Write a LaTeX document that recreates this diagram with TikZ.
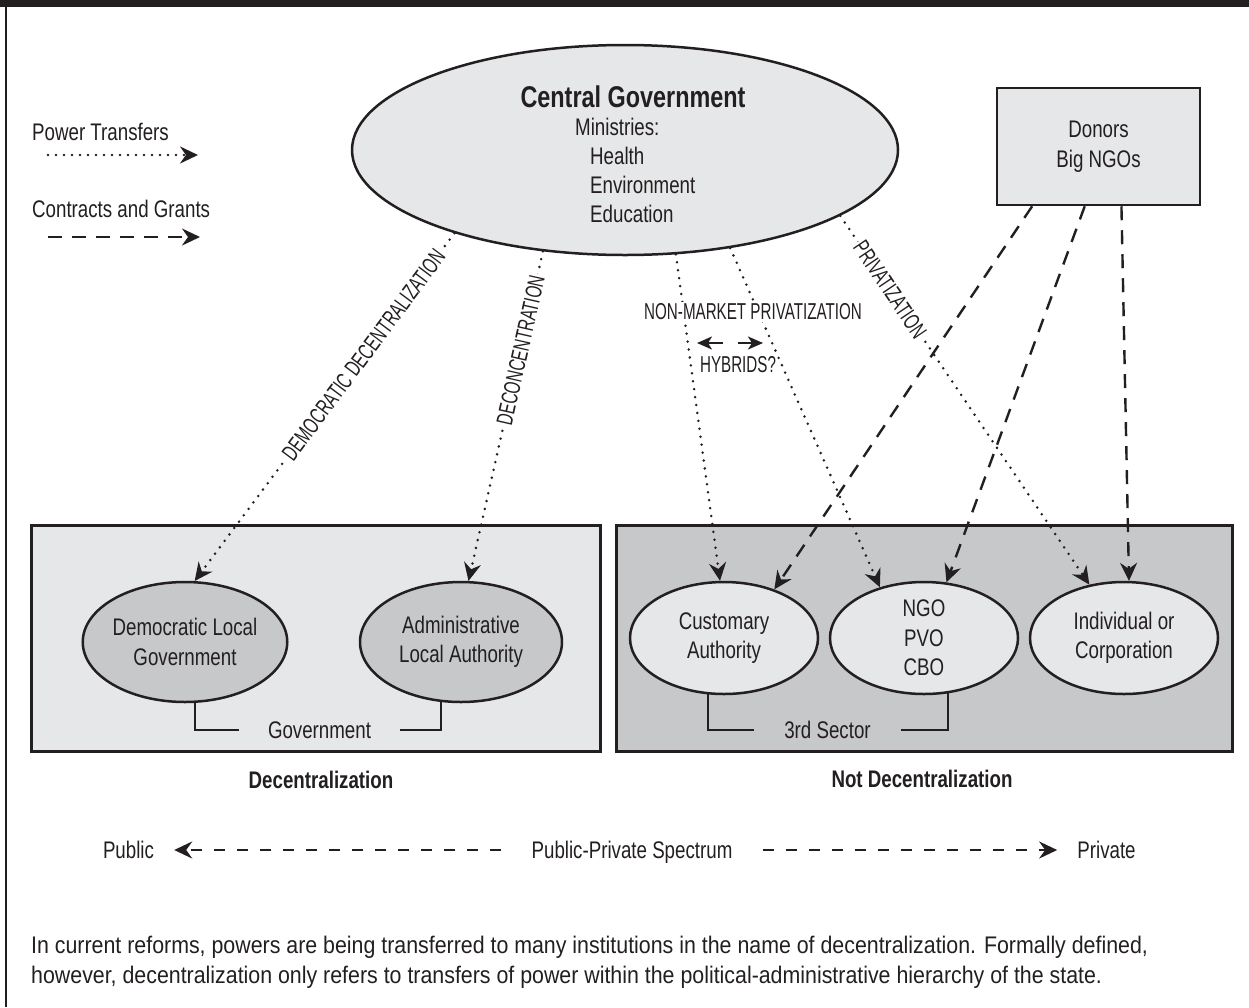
\documentclass[tikz,border=0pt]{standalone}
\usepackage{fontspec}
\setmainfont[FakeStretch=0.78]{Liberation Sans}
\newfontfamily\capsfont[FakeStretch=0.66]{Liberation Sans}
\newfontfamily\notefont[FakeStretch=0.89]{Liberation Sans}
\usetikzlibrary{arrows.meta,shapes.geometric}
\definecolor{ink}{HTML}{231F20}
\definecolor{paleg}{HTML}{E6E7E8}
\definecolor{midg}{HTML}{C7C8CA}

\begin{document}
\begin{tikzpicture}[
  x=1pt, y=-1pt,
  every node/.style={text=ink, font=\fontsize{24}{29.5}\selectfont, inner sep=0pt, align=center},
  capslabel/.style={font=\capsfont\fontsize{23}{27}\selectfont, fill=white, inner sep=2pt},
  oval/.style={ellipse, draw=ink, line width=2.5pt},
  inst/.style={oval, minimum width=188pt, minimum height=112pt},
  sector/.style={draw=ink, line width=3pt},
  tag/.style={text depth=0pt},
  bigtip/.style={-{Stealth[length=18pt,width=17pt,inset=6pt]}},
  transfer/.style={draw=ink, line width=2.8pt, line cap=round, dash pattern=on 0pt off 8pt, bigtip},
  grant/.style={draw=ink, line width=2.4pt, dash pattern=on 14pt off 10pt, bigtip},
  hybrid/.style={draw=ink, line width=2pt, -{Stealth[length=15pt,width=13pt,inset=4pt]}},
  bracket/.style={draw=ink, line width=2pt}
]
\useasboundingbox (0,0) rectangle (1249,1007);
\fill[ink] (0,0) rectangle (1249,7);
\draw[ink, line width=2pt] (6,7) -- (6,1007);

\node[anchor=base west] (powerkey) at (32,140) {Power Transfers};
\coordinate (pk1) at (48,155);
\coordinate (pk2) at (198,155);
\draw[transfer] (pk1) -- (pk2);
\node[anchor=base west] (grantkey) at (32,217) {Contracts and Grants};
\coordinate (gk1) at (48,237);
\coordinate (gk2) at (200,237);
\draw[grant] (gk1) -- (gk2);

\node[sector, fill=paleg, minimum width=569pt, minimum height=226pt] (govbox) at (315.5,638) {};
\node[sector, fill=midg, minimum width=616pt, minimum height=226pt] (civbox) at (924,638) {};

\node[oval, fill=paleg, minimum width=546pt, minimum height=210pt] (cgov) at (625,150) {};
\node[anchor=base, font=\bfseries\fontsize{30}{36}\selectfont] (cgtitle) at (633,107) {Central Government};
\node[anchor=base west] (ministries) at (575,135) {Ministries:};
\foreach \m [count=\i] in {Health,Environment,Education}
  \node[anchor=base west] (min\i) at (590,135+29*\i) {\m};

\node[sector, line width=2.5pt, fill=paleg, minimum width=203pt, minimum height=117pt] (donors) at (1098.5,146.5) {Donors\\Big NGOs};

\node[inst, fill=midg, minimum width=202pt, minimum height=120pt] (dlg) at (185,642) {Democratic Local\\Government};
\node[inst, fill=midg, minimum width=202pt, minimum height=120pt] (ala) at (461,642) {Administrative\\Local Authority};
\node[inst, fill=paleg] (ca) at (724,638) {Customary\\Authority};
\node[inst, fill=paleg] (ngo) at (924,638) {NGO\\PVO\\CBO};
\node[inst, fill=paleg] (ind) at (1124,638) {Individual or\\Corporation};

\node[tag, inner xsep=29pt] (govtag) at (319.5,730) {Government};
\draw[bracket] (dlg.-81.5) |- (govtag.west);
\draw[bracket] (ala.-108) |- (govtag.east);
\node[tag, inner xsep=30pt] (sectortag) at (827.5,730) {3rd Sector};
\draw[bracket] (ca.-106) |- (sectortag.west);
\draw[bracket] (ngo.-67.5) |- (sectortag.east);

\node[anchor=base, font=\bfseries\fontsize{24}{29}\selectfont] (dectitle) at (321,788) {Decentralization};
\node[anchor=base, font=\bfseries\fontsize{24}{29}\selectfont] (notdectitle) at (922,787) {Not Decentralization};

\draw[transfer] (cgov.206.8) -- node[capslabel, sloped, pos=0.35] (demlbl) {DEMOCRATIC DECENTRALIZATION} (dlg.81.5);
\draw[transfer] (cgov.231.5) -- node[capslabel, sloped, pos=0.30] (deconlbl) {DECONCENTRATION} (ala.83);
\draw[transfer] (cgov.296.4) -- (ca.94);
\draw[transfer] (cgov.317.2) -- (ngo.131);
\draw[transfer] (cgov.343.5) -- node[capslabel, sloped, pos=0.2] (privlbl) {PRIVATIZATION} (ind.123);

\draw[grant] (donors.222.6) -- (ca.44);
\draw[grant] (donors.257.9) -- (ngo.68);
\draw[grant] (donors.291) -- (ind.85);

\node[capslabel] (nonmarket) at (753,312) {NON-MARKET PRIVATIZATION};
\node[font=\capsfont\fontsize{23}{27}\selectfont] (hybrids) at (738,365) {HYBRIDS?};
\coordinate (hybtail1) at (723,343);
\coordinate (hybtip1) at (697,343);
\coordinate (hybtail2) at (738,343);
\coordinate (hybtip2) at (763,343);
\draw[hybrid] (hybtail1) -- (hybtip1);
\draw[hybrid] (hybtail2) -- (hybtip2);

\node[tag, inner xsep=20pt] (public) at (128.5,850) {Public};
\node[tag, inner xsep=30pt] (spectrum) at (632,850) {Public-Private Spectrum};
\node[tag, inner xsep=20pt] (private) at (1106.5,850) {Private};
\draw[grant, dash pattern=on 11pt off 12pt] (spectrum.west) -- (public.east);
\draw[grant, dash pattern=on 11pt off 12pt] (spectrum.east) -- (private.west);

\node[anchor=base west, font=\notefont\fontsize{24}{29.5}\selectfont] (note1) at (31,953) {In current reforms, powers are being transferred to many institutions in the name of decentralization. Formally defined,};
\node[anchor=base west, font=\notefont\fontsize{24}{29.5}\selectfont] (note2) at (31,983) {however, decentralization only refers to transfers of power within the political-administrative hierarchy of the state.};
\end{tikzpicture}
\end{document}
